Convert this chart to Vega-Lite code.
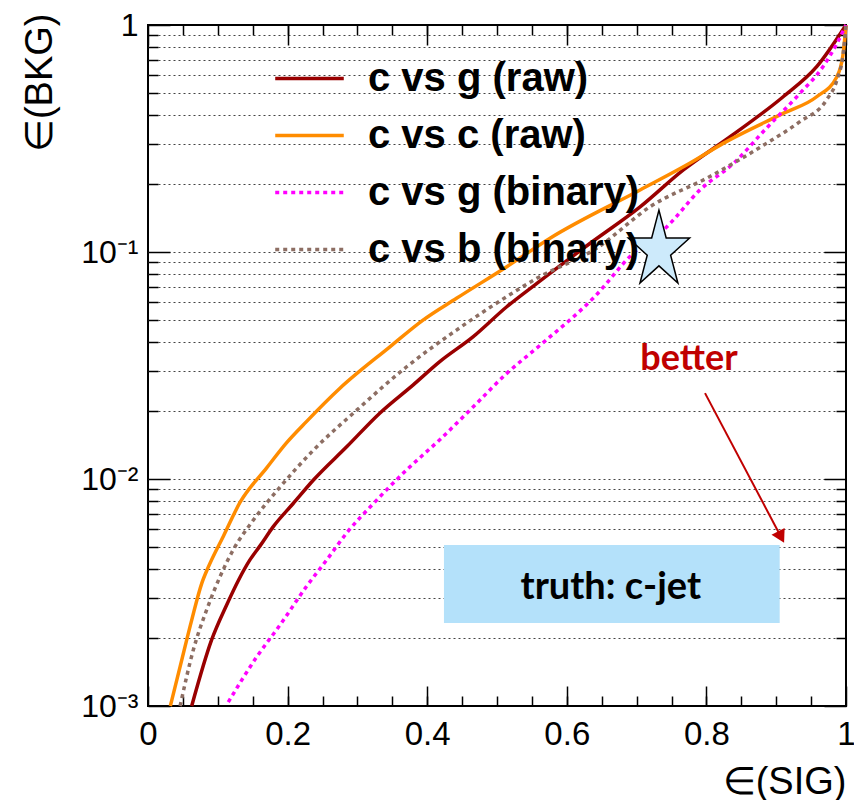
{
  "$schema": "https://vega.github.io/schema/vega-lite/v6.json",
  "width": 698,
  "height": 681,
  "autosize": "none",
  "padding": {"left": 148, "top": 25, "right": 8, "bottom": 94},
  "background": "white",
  "config": {
    "view": {"stroke": "black", "strokeWidth": 2},
    "axis": {"domain": false, "grid": false, "ticks": true, "zindex": 1, "labelFont": "Liberation Sans", "titleFont": "Liberation Sans", "tickColor": "black", "labelColor": "black", "titleColor": "black", "tickWidth": 1.5, "tickOpacity": 1}
  },
  "datasets": {
    "cg_raw": [
      {"x": 0.0626, "y": 0.001}, {"x": 0.091, "y": 0.00195}, {"x": 0.113, "y": 0.0028}, {"x": 0.13, "y": 0.0036},
      {"x": 0.146, "y": 0.0044}, {"x": 0.161, "y": 0.0051}, {"x": 0.18, "y": 0.0062}, {"x": 0.208, "y": 0.0078}, {"x": 0.237, "y": 0.0099},
      {"x": 0.285, "y": 0.0139}, {"x": 0.332, "y": 0.0195}, {"x": 0.38, "y": 0.026}, {"x": 0.418, "y": 0.0329},
      {"x": 0.466, "y": 0.0424}, {"x": 0.514, "y": 0.0574}, {"x": 0.559, "y": 0.0735}, {"x": 0.633, "y": 0.109},
      {"x": 0.705, "y": 0.158}, {"x": 0.767, "y": 0.23}, {"x": 0.834, "y": 0.322}, {"x": 0.91, "y": 0.483},
      {"x": 0.958, "y": 0.655}, {"x": 1.0, "y": 1.0}
    ],
    "cc_raw": [
      {"x": 0.032, "y": 0.001}, {"x": 0.046, "y": 0.00149}, {"x": 0.0626, "y": 0.00239}, {"x": 0.077, "y": 0.00347},
      {"x": 0.0865, "y": 0.0041}, {"x": 0.108, "y": 0.0056}, {"x": 0.132, "y": 0.0079}, {"x": 0.17, "y": 0.0112},
      {"x": 0.199, "y": 0.0145}, {"x": 0.227, "y": 0.0179}, {"x": 0.275, "y": 0.0251}, {"x": 0.347, "y": 0.0383},
      {"x": 0.394, "y": 0.0501}, {"x": 0.442, "y": 0.0625}, {"x": 0.514, "y": 0.0861}, {"x": 0.576, "y": 0.115},
      {"x": 0.705, "y": 0.1876}, {"x": 0.776, "y": 0.246}, {"x": 0.824, "y": 0.301}, {"x": 0.91, "y": 0.408},
      {"x": 0.958, "y": 0.483}, {"x": 0.987, "y": 0.592}, {"x": 0.996, "y": 0.75}, {"x": 1.0, "y": 1.0}
    ],
    "cg_bin": [
      {"x": 0.115, "y": 0.00104}, {"x": 0.156, "y": 0.00165}, {"x": 0.189, "y": 0.00227}, {"x": 0.227, "y": 0.00336},
      {"x": 0.256, "y": 0.0044}, {"x": 0.285, "y": 0.0058}, {"x": 0.323, "y": 0.0078}, {"x": 0.371, "y": 0.011},
      {"x": 0.418, "y": 0.0149}, {"x": 0.466, "y": 0.0208}, {"x": 0.514, "y": 0.0292}, {"x": 0.562, "y": 0.0389},
      {"x": 0.64, "y": 0.0636}, {"x": 0.695, "y": 0.0987}, {"x": 0.743, "y": 0.129}, {"x": 0.791, "y": 0.188},
      {"x": 0.839, "y": 0.246}, {"x": 0.886, "y": 0.351}, {"x": 0.934, "y": 0.5}, {"x": 0.967, "y": 0.655},
      {"x": 0.987, "y": 0.83}, {"x": 1.0, "y": 1.0}
    ],
    "cb_bin": [
      {"x": 0.046, "y": 0.001}, {"x": 0.065, "y": 0.00177}, {"x": 0.084, "y": 0.00265}, {"x": 0.103, "y": 0.0037},
      {"x": 0.122, "y": 0.00487}, {"x": 0.151, "y": 0.0066}, {"x": 0.189, "y": 0.0092}, {"x": 0.237, "y": 0.0134},
      {"x": 0.299, "y": 0.0201}, {"x": 0.371, "y": 0.0313}, {"x": 0.442, "y": 0.0453}, {"x": 0.514, "y": 0.0636},
      {"x": 0.557, "y": 0.0766}, {"x": 0.643, "y": 0.104}, {"x": 0.719, "y": 0.158}, {"x": 0.805, "y": 0.215},
      {"x": 0.886, "y": 0.301}, {"x": 0.934, "y": 0.375}, {"x": 0.972, "y": 0.467}, {"x": 0.987, "y": 0.572},
      {"x": 0.996, "y": 0.75}, {"x": 1.0, "y": 1.0}
    ],
    "box": [{"x": 0.424, "x2": 0.905, "y": 0.00512, "y2": 0.00232}],
    "boxtext": [{"x": 0.663, "y": 0.00331, "label": "truth: c-jet"}],
    "better": [{"x": 0.775, "y": 0.0302, "label": "better"}],
    "arrow": [{"x": 0.798, "y": 0.0239, "x2": 0.907, "y2": 0.00555}],
    "star": [{"x": 0.732, "y": 0.1016}]
  },
  "layer": [
    {
      "data": {"name": "box"},
      "mark": {"type": "rect", "fill": "#b4e1fa"},
      "encoding": {
        "x": {"field": "x", "type": "quantitative", "scale": {"domain": [0, 1], "nice": false, "zero": false},
          "axis": {"orient": "bottom", "values": [0.05,0.1,0.15,0.2,0.25,0.3,0.35,0.4,0.45,0.5,0.55,0.6,0.65,0.7,0.75,0.8,0.85,0.9,0.95], "offset": -10, "tickSize": 10, "labels": false, "title": null}},
        "x2": {"field": "x2"},
        "y": {"field": "y", "type": "quantitative", "scale": {"type": "log", "domain": [0.001, 1], "nice": false},
          "axis": {"orient": "left", "values": [0.002,0.003,0.004,0.005,0.006,0.007,0.008,0.009,0.02,0.03,0.04,0.05,0.06,0.07,0.08,0.09,0.2,0.3,0.4,0.5,0.6,0.7,0.8,0.9], "offset": -10, "tickSize": 10, "labels": false, "title": null}},
        "y2": {"field": "y2"}
      }
    },
    {
      "data": {"name": "boxtext"},
      "mark": {"type": "text", "font": "Lato", "fontWeight": "bold", "fontSize": 38, "color": "black", "align": "center", "baseline": "middle"},
      "encoding": {
        "x": {"field": "x", "type": "quantitative",
          "axis": {"orient": "top", "values": [0.05,0.1,0.15,0.2,0.25,0.3,0.35,0.4,0.45,0.5,0.55,0.6,0.65,0.7,0.75,0.8,0.85,0.9,0.95], "offset": -10, "tickSize": 10, "labels": false, "title": null}},
        "y": {"field": "y", "type": "quantitative",
          "axis": {"orient": "right", "values": [0.002,0.003,0.004,0.005,0.006,0.007,0.008,0.009,0.02,0.03,0.04,0.05,0.06,0.07,0.08,0.09,0.2,0.3,0.4,0.5,0.6,0.7,0.8,0.9], "offset": -10, "tickSize": 10, "labels": false, "title": null}},
        "text": {"field": "label"}
      }
    },
    {
      "data": {"name": "better"},
      "mark": {"type": "text", "font": "Lato", "fontWeight": "bold", "fontSize": 36, "color": "#c00000", "align": "center", "baseline": "alphabetic"},
      "encoding": {
        "x": {"field": "x", "type": "quantitative", "axis": null},
        "y": {"field": "y", "type": "quantitative",
          "axis": {"orient": "left", "values": [0.002,0.003,0.004,0.005,0.006,0.007,0.008,0.009,0.01,0.02,0.03,0.04,0.05,0.06,0.07,0.08,0.09,0.1,0.2,0.3,0.4,0.5,0.6,0.7,0.8,0.9], "ticks": false, "labels": false, "title": null, "zindex": 0, "grid": true, "gridDash": [2, 3], "gridColor": "#444", "gridWidth": 1}},
        "text": {"field": "label"}
      }
    },
    {
      "data": {"name": "arrow"},
      "mark": {"type": "rule", "color": "#c00000", "strokeWidth": 2},
      "encoding": {
        "x": {"field": "x", "type": "quantitative", "axis": null},
        "y": {"field": "y", "type": "quantitative", "axis": null},
        "x2": {"field": "x2"},
        "y2": {"field": "y2"}
      }
    },
    {
      "data": {"name": "arrow"},
      "mark": {"type": "point", "shape": "triangle-down", "filled": true, "color": "#c00000", "size": 220, "angle": 332, "opacity": 1},
      "encoding": {
        "x": {"field": "x2", "type": "quantitative", "axis": null},
        "y": {"field": "y2", "type": "quantitative", "axis": null}
      }
    },
    {
      "data": {"name": "cg_raw"},
      "mark": {"type": "line", "strokeWidth": 3.5, "interpolate": "monotone"},
      "encoding": {
        "x": {"field": "x", "type": "quantitative",
          "axis": {"orient": "bottom", "values": [0, 0.2, 0.4, 0.6, 0.8, 1], "offset": -20, "tickSize": 20, "labelPadding": 12, "labelFontSize": 33, "format": "~g", "labelFlush": false, "labelOverlap": false,
            "title": "∈(SIG)", "titleFontSize": 38, "titleFontWeight": "normal", "titleAlign": "right", "titleAnchor": "end", "titleX": 698, "titleY": 107, "titleBaseline": "alphabetic"}},
        "y": {"field": "y", "type": "quantitative",
          "axis": {"orient": "left", "values": [0.001, 0.01, 0.1, 1], "offset": -22, "tickSize": 22, "labelPadding": 10, "labelFontSize": 32, "labelFlush": false, "labelOverlap": false,
            "labelExpr": "datum.value > 0.5 ? '1' : datum.value > 0.05 ? '10⁻¹' : datum.value > 0.005 ? '10⁻²' : '10⁻³'",
            "title": "∈(BKG)", "titleFontSize": 38, "titleFontWeight": "normal", "titleAngle": -90, "titleAlign": "right", "titleBaseline": "middle", "titleX": -130, "titleY": -12}},
        "color": {"datum": "c vs g (raw)", "type": "nominal",
          "scale": {"domain": ["c vs g (raw)", "c vs c (raw)", "c vs g (binary)", "c vs b (binary)"], "range": ["#990000", "#ff8c00", "#ff00ff", "#8d6e63"]},
          "legend": {"orient": "none", "legendX": 125, "legendY": 17, "title": null, "symbolType": "stroke", "symbolSize": 4700, "symbolStrokeWidth": 3.5, "labelFontSize": 40, "labelFont": "Liberation Sans", "labelFontWeight": "bold", "labelColor": "black", "labelOffset": 22, "labelLimit": 600, "rowPadding": 0,
            "encode": {"symbols": {"update": {"strokeDash": {"signal": "indexof(datum.value, 'binary') >= 0 ? [4, 4] : [1, 0]"}}}}}}
      }
    },
    {
      "data": {"name": "cc_raw"},
      "mark": {"type": "line", "strokeWidth": 3.5, "interpolate": "monotone"},
      "encoding": {
        "x": {"field": "x", "type": "quantitative", "axis": null},
        "y": {"field": "y", "type": "quantitative", "axis": null},
        "color": {"datum": "c vs c (raw)", "type": "nominal"}
      }
    },
    {
      "data": {"name": "cg_bin"},
      "mark": {"type": "line", "strokeWidth": 3.5, "strokeDash": [4, 4], "interpolate": "monotone"},
      "encoding": {
        "x": {"field": "x", "type": "quantitative", "axis": null},
        "y": {"field": "y", "type": "quantitative", "axis": null},
        "color": {"datum": "c vs g (binary)", "type": "nominal"}
      }
    },
    {
      "data": {"name": "cb_bin"},
      "mark": {"type": "line", "strokeWidth": 3.5, "strokeDash": [4, 4], "interpolate": "monotone"},
      "encoding": {
        "x": {"field": "x", "type": "quantitative", "axis": null},
        "y": {"field": "y", "type": "quantitative", "axis": null},
        "color": {"datum": "c vs b (binary)", "type": "nominal"}
      }
    },
    {
      "data": {"name": "star"},
      "mark": {"type": "point", "shape": "M0,-1L0.18,-0.309L0.761,-0.309L0.29,0.118L0.47,0.809L0,0.382L-0.47,0.809L-0.29,0.118L-0.761,-0.309L-0.18,-0.309Z", "filled": true, "fill": "#cdeafb", "stroke": "black", "strokeWidth": 1.5, "size": 6500, "opacity": 1},
      "encoding": {
        "x": {"field": "x", "type": "quantitative",
          "axis": {"orient": "top", "values": [0, 0.2, 0.4, 0.6, 0.8, 1], "offset": -20, "tickSize": 20, "labels": false, "title": null}},
        "y": {"field": "y", "type": "quantitative",
          "axis": {"orient": "right", "values": [0.001, 0.01, 0.1, 1], "offset": -22, "tickSize": 22, "labels": false, "title": null}}
      }
    }
  ],
  "resolve": {"axis": {"x": "independent", "y": "independent"}}
}
